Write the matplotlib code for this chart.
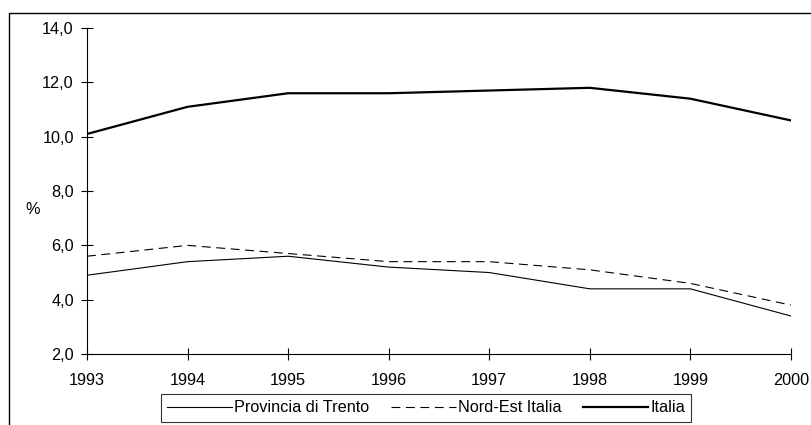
import matplotlib.pyplot as plt
from matplotlib.patches import Rectangle
from matplotlib.ticker import FuncFormatter

plt.rcParams['font.family'] = ['Liberation Sans', 'DejaVu Sans']

# ----------------------------
# Data
# ----------------------------
years = [1993, 1994, 1995, 1996, 1997, 1998, 1999, 2000]
trento = [4.9, 5.4, 5.6, 5.2, 5.0, 4.4, 4.4, 3.4]
nord_est = [5.6, 6.0, 5.7, 5.4, 5.4, 5.1, 4.6, 3.8]
italia = [10.1, 11.1, 11.6, 11.6, 11.7, 11.8, 11.4, 10.6]
y_ticks = [2, 4, 6, 8, 10, 12, 14]

FS = 11.7

fig = plt.figure(figsize=(8.12, 4.25), dpi=100)
ax = fig.add_axes([0.1071, 0.167, 0.974 - 0.1071, 0.934 - 0.167])

ax.plot(years, trento, color='black', lw=0.8, label='Provincia di Trento')
ax.plot(years, nord_est, color='black', lw=0.8, dashes=(8, 5), label='Nord-Est Italia')
ax.plot(years, italia, color='black', lw=1.6, label='Italia')

ax.set_xlim(years[0], years[-1])
ax.set_ylim(y_ticks[0], y_ticks[-1])
ax.set_xticks(years)
ax.set_yticks(y_ticks)
ax.yaxis.set_major_formatter(FuncFormatter(lambda v, p: f"{v:.1f}".replace('.', ',')))

for s in ['top', 'right']:
    ax.spines[s].set_visible(False)
for s in ['left', 'bottom']:
    ax.spines[s].set_color('black')
    ax.spines[s].set_linewidth(0.8)
ax.tick_params(direction='inout', length=9, width=0.8, labelsize=FS, colors='black')
ax.tick_params(axis='x', pad=9)
ax.tick_params(axis='y', pad=5)

fig.text(25 / 812, 1 - 210 / 425, '%', fontsize=FS, ha='left', va='center')

leg = fig.legend(loc='center', bbox_to_anchor=(426 / 812, 1 - 408 / 425), ncol=3,
                 frameon=True, fancybox=False, edgecolor='black', fontsize=FS,
                 handlelength=4.0, handletextpad=0.15, columnspacing=1.3,
                 borderpad=0.4, borderaxespad=0)
leg.get_frame().set_linewidth(0.8)

# outer chart frame (bottom/right cut off in the original)
fig.patches.append(Rectangle((9 / 812, -0.1), 1.0, 1 - 13 / 425 + 0.1,
                             transform=fig.transFigure, fill=False,
                             edgecolor='black', lw=1.0))

fig.savefig('out.png', dpi=100)
